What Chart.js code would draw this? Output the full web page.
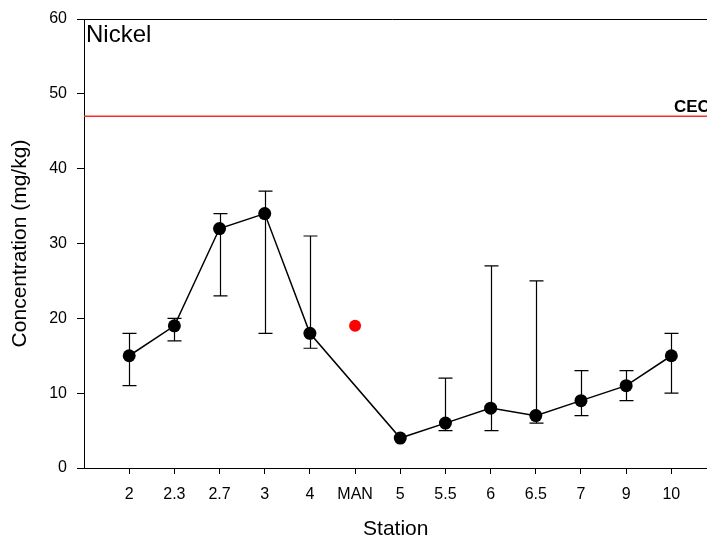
<!DOCTYPE html>
<html>
<head>
<meta charset="utf-8">
<script src="https://cdn.jsdelivr.net/npm/chart.js@4.4.1/dist/chart.umd.min.js"></script>
<style>
  body { margin: 0; background: #fff; overflow: hidden; }
  #nickelChart { display: block; }
</style>
</head>
<body>
<canvas id="nickelChart" width="714" height="538"></canvas>
<script>
// station labels along the x axis
var stations = ['2', '2.3', '2.7', '3', '4', 'MAN', '5', '5.5', '6', '6.5', '7', '9', '10'];
// nickel concentration (mg/kg), MAN shown separately in red
var nickel  = [15, 19, 32, 34, 18, null, 4, 6, 8, 7, 9, 11, 15];
var errLow  = [11, 17, 23, 18, 16, null, 4, 5, 5, 6, 7, 9, 10];
var errHigh = [18, 20, 34, 37, 31, null, 4, 12, 27, 25, 13, 13, 18];
var manIndex = 5;
var manValue = 19;
var cecLevel = 47;
var yTicks = [0, 10, 20, 30, 40, 50, 60];

var fontFamily = "'Liberation Sans', Arial, Helvetica, sans-serif";

var linePoints = [];
for (var i = 0; i < stations.length; i++) {
  if (nickel[i] !== null) linePoints.push({x: i, y: nickel[i]});
}

var extrasPlugin = {
  id: 'extras',
  beforeDatasetsDraw: function(chart) {
    var ctx = chart.ctx, xs = chart.scales.x, ys = chart.scales.y, area = chart.chartArea;
    ctx.save();
    // CEC guideline
    var yc = ys.getPixelForValue(cecLevel);
    ctx.strokeStyle = '#ff2a2a';
    ctx.lineWidth = 1.5;
    ctx.beginPath();
    ctx.moveTo(area.left, yc);
    ctx.lineTo(area.right, yc);
    ctx.stroke();
    // error bars
    ctx.strokeStyle = '#000';
    ctx.lineWidth = 1.2;
    for (var i = 0; i < stations.length; i++) {
      if (errLow[i] === null || errLow[i] === errHigh[i]) continue;
      var px = Math.round(xs.getPixelForValue(i)) + 0.5;
      var top = ys.getPixelForValue(errHigh[i]);
      var bot = ys.getPixelForValue(errLow[i]);
      ctx.beginPath();
      ctx.moveTo(px, top); ctx.lineTo(px, bot);
      ctx.moveTo(px - 7, top); ctx.lineTo(px + 7, top);
      ctx.moveTo(px - 7, bot); ctx.lineTo(px + 7, bot);
      ctx.stroke();
    }
    ctx.restore();
  },
  afterDraw: function(chart) {
    var ctx = chart.ctx, ys = chart.scales.y, area = chart.chartArea;
    ctx.save();
    // top frame line
    ctx.strokeStyle = '#000';
    ctx.lineWidth = 1;
    ctx.beginPath();
    ctx.moveTo(area.left - 6, Math.round(area.top) + 0.5);
    ctx.lineTo(area.right, Math.round(area.top) + 0.5);
    ctx.stroke();
    // panel label
    ctx.fillStyle = '#000';
    ctx.font = '24px ' + fontFamily;
    ctx.textAlign = 'left';
    ctx.textBaseline = 'alphabetic';
    ctx.fillText('Nickel', area.left + 2, 42);
    // CEC label (runs off the right edge, as in the original)
    ctx.font = 'bold 17px ' + fontFamily;
    ctx.fillText('CEC', 674, ys.getPixelForValue(cecLevel) - 4);
    ctx.restore();
  }
};

var ctx = document.getElementById('nickelChart').getContext('2d');
new Chart(ctx, {
  type: 'scatter',
  data: {
    datasets: [
      {
        data: linePoints,
        showLine: true,
        borderColor: '#000',
        borderWidth: 1.5,
        backgroundColor: '#000',
        pointRadius: 6.5,
        pointBorderWidth: 0,
        pointBackgroundColor: '#000'
      },
      {
        data: [{x: manIndex, y: manValue}],
        showLine: false,
        pointRadius: 6,
        pointBorderWidth: 0,
        pointBackgroundColor: '#ff0000'
      }
    ]
  },
  options: {
    responsive: false,
    animation: false,
    layout: { padding: { top: 19, left: 0, right: 0, bottom: 0 } },
    plugins: {
      legend: { display: false },
      tooltip: { enabled: false }
    },
    scales: {
      x: {
        type: 'linear',
        min: -1,
        max: 12.8,
        afterBuildTicks: function(scale) {
          scale.ticks = stations.map(function(s, i) { return {value: i}; });
        },
        afterFit: function(scale) {
          scale.height = 70;
          scale.paddingLeft = 0;
          scale.paddingRight = 0;
        },
        ticks: {
          autoSkip: false,
          maxRotation: 0,
          padding: 11,
          color: '#000',
          font: { family: fontFamily, size: 16 },
          callback: function(value) { return stations[value]; }
        },
        grid: { drawOnChartArea: false, tickLength: 6, color: '#000' },
        border: { display: true, color: '#000', width: 1 },
        title: {
          display: true,
          text: 'Station',
          color: '#000',
          font: { family: fontFamily, size: 21, lineHeight: 0.8 },
          padding: 0
        }
      },
      y: {
        min: 0,
        max: 60,
        afterBuildTicks: function(scale) {
          scale.ticks = yTicks.map(function(v) { return {value: v}; });
        },
        afterFit: function(scale) {
          scale.width = 84;
          scale.paddingTop = 0;
          scale.paddingBottom = 0;
        },
        ticks: {
          padding: 10,
          color: '#000',
          font: { family: fontFamily, size: 16 }
        },
        grid: { drawOnChartArea: false, tickLength: 7, color: '#000' },
        border: { display: true, color: '#000', width: 1 },
        title: {
          display: true,
          text: 'Concentration (mg/kg)',
          color: '#000',
          font: { family: fontFamily, size: 21 },
          padding: { top: 8, bottom: 0 }
        }
      }
    }
  },
  plugins: [extrasPlugin]
});
</script>
</body>
</html>
